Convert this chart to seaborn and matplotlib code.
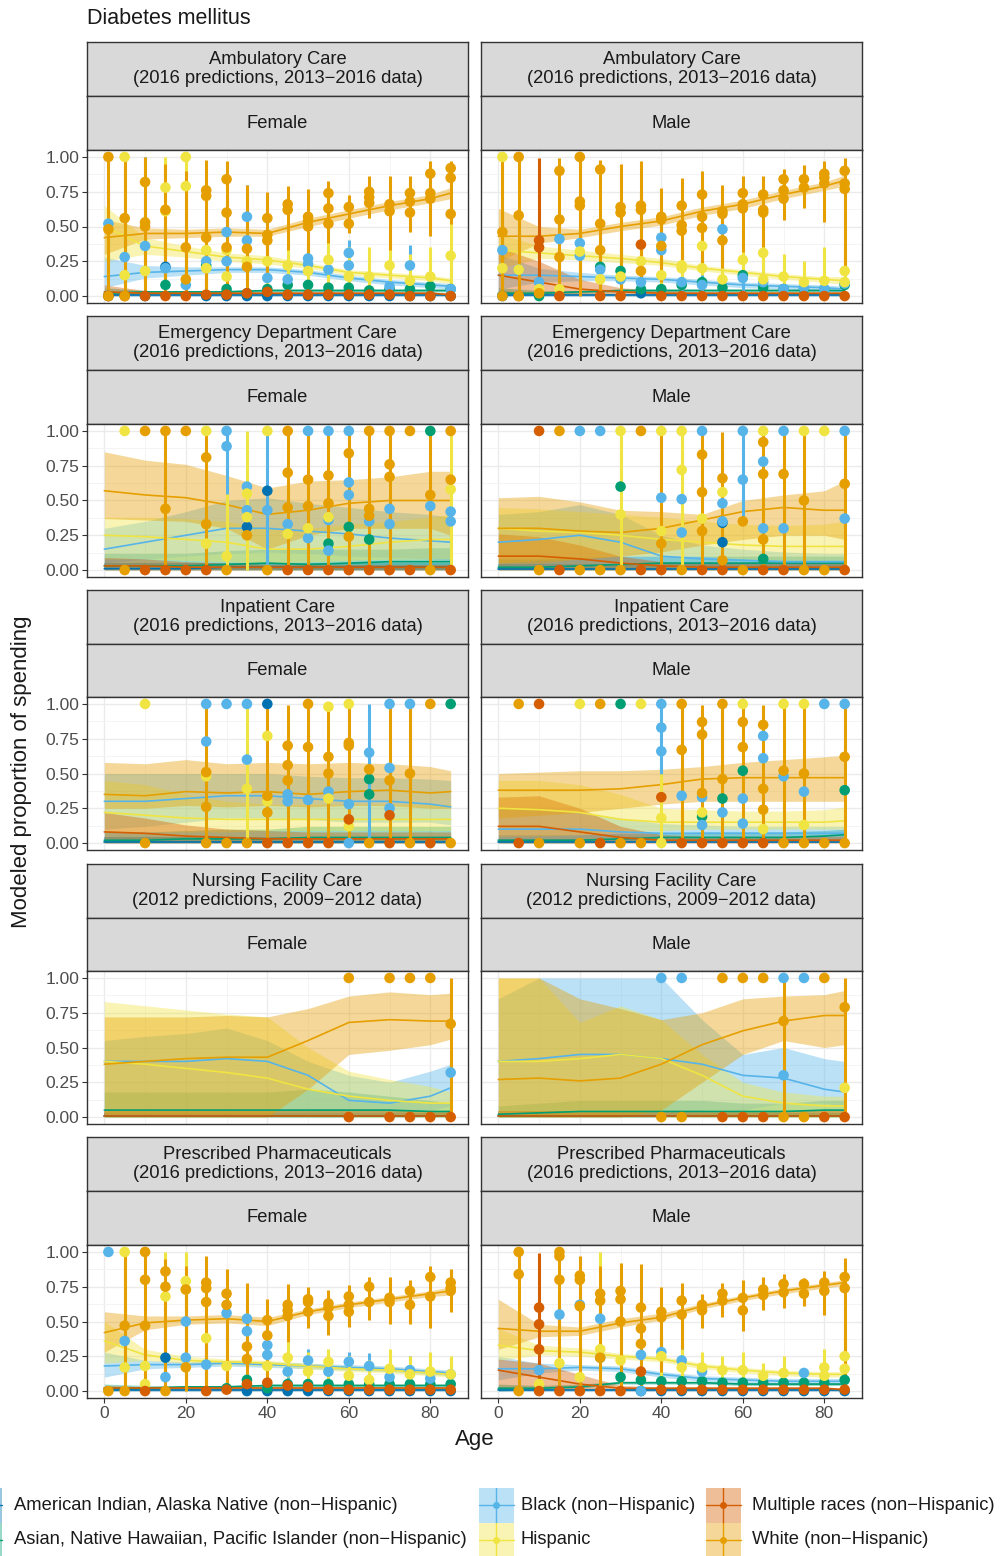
import matplotlib
matplotlib.use("Agg")
import matplotlib.pyplot as plt
from matplotlib.patches import Rectangle
import seaborn as sns
import pandas as pd

N = None

RACES = ["aian", "api", "blk", "hisp", "mult", "wht"]
LABELS = {
    "aian": "American Indian, Alaska Native (non\u2212Hispanic)",
    "api": "Asian, Native Hawaiian, Pacific Islander (non\u2212Hispanic)",
    "blk": "Black (non\u2212Hispanic)",
    "hisp": "Hispanic",
    "mult": "Multiple races (non\u2212Hispanic)",
    "wht": "White (non\u2212Hispanic)",
}
PAL = {"aian": "#0072B2", "api": "#009E73", "blk": "#56B4E9",
       "hisp": "#F0E442", "mult": "#D55E00", "wht": "#E69F00"}

# ages of the modeled ribbons and of the observed points
R_AGES = [0, 10, 20, 30, 40, 50, 60, 70, 80, 85]
P_AGES = [1, 5, 10, 15, 20, 25, 30, 35, 40, 45, 50, 55, 60, 65, 70, 75, 80, 85]

Z10 = [0.00, 0.00, 0.00, 0.00, 0.00, 0.00, 0.00, 0.00, 0.00, 0.00]

# ---------------- Ambulatory care ----------------
RIB_AMB_F = {
    "aian": ([0.01, 0.01, 0.01, 0.01, 0.01, 0.01, 0.01, 0.01, 0.01, 0.01], Z10,
             [0.04, 0.02, 0.02, 0.02, 0.02, 0.02, 0.02, 0.02, 0.02, 0.02]),
    "api": ([0.02, 0.03, 0.03, 0.03, 0.04, 0.04, 0.04, 0.04, 0.04, 0.04],
            [0.00, 0.02, 0.02, 0.02, 0.03, 0.03, 0.03, 0.03, 0.03, 0.03],
            [0.06, 0.04, 0.04, 0.04, 0.05, 0.05, 0.05, 0.05, 0.05, 0.05]),
    "blk": ([0.14, 0.17, 0.18, 0.19, 0.19, 0.17, 0.13, 0.10, 0.08, 0.07],
            [0.06, 0.13, 0.15, 0.17, 0.17, 0.15, 0.11, 0.08, 0.06, 0.05],
            [0.28, 0.22, 0.21, 0.21, 0.21, 0.19, 0.15, 0.12, 0.10, 0.09]),
    "hisp": ([0.50, 0.36, 0.32, 0.28, 0.26, 0.22, 0.17, 0.15, 0.13, 0.11],
             [0.25, 0.30, 0.28, 0.25, 0.23, 0.20, 0.15, 0.13, 0.11, 0.09],
             [0.65, 0.42, 0.36, 0.31, 0.29, 0.24, 0.19, 0.17, 0.15, 0.13]),
    "mult": ([0.03, 0.02, 0.02, 0.02, 0.02, 0.02, 0.02, 0.02, 0.02, 0.01],
             [0.01, 0.01, 0.01, 0.01, 0.01, 0.01, 0.01, 0.01, 0.01, 0.00],
             [0.08, 0.04, 0.03, 0.03, 0.03, 0.03, 0.03, 0.03, 0.03, 0.02]),
    "wht": ([0.42, 0.45, 0.45, 0.46, 0.45, 0.53, 0.59, 0.65, 0.70, 0.74],
            [0.30, 0.41, 0.42, 0.43, 0.43, 0.50, 0.56, 0.62, 0.67, 0.70],
            [0.55, 0.49, 0.48, 0.49, 0.48, 0.56, 0.62, 0.68, 0.73, 0.78]),
}
PTS_AMB_F = {
    "aian": [[0.00, N, 0.00, 0.21, N, 0.00, 0.00, 0.00, 0.00, 0.00, 0.00, 0.00, 0.00, 0.00, 0.00, 0.00, 0.00, 0.00]],
    "api": [[N, N, N, 0.08, N, 0.22, 0.05, 0.02, 0.05, 0.08, 0.08, 0.06, 0.06, 0.04, 0.05, 0.05, 0.07, 0.05]],
    "blk": [[0.52, 0.28, 0.36, 0.20, 0.08, 0.25, 0.46, 0.57, 0.13, 0.12, 0.27, 0.19, 0.31, N, 0.07, 0.22, N, 0.05],
            [N, N, N, N, N, N, 0.25, 0.40, N, N, 0.23, N, 0.22, N, N, N, N, N]],
    "hisp": [[N, 1.00, 0.18, 0.78, 1.00, 0.33, 0.33, 0.25, 0.25, 0.22, 0.18, 0.26, 0.14, 0.14, 0.22, 0.11, 0.14, 0.29],
             [N, 0.15, N, 0.61, 0.79, 0.20, 0.14, N, N, N, N, N, N, N, N, N, N, N]],
    "mult": [[0.00, 0.00, 0.00, 0.00, 0.00, 0.01, 0.01, 0.02, 0.03, 0.01, 0.01, 0.01, 0.01, 0.01, 0.01, 0.00, 0.00, 0.00]],
    "wht": [[1.00, 0.56, 0.82, 0.62, 0.35, 0.76, 0.84, 0.34, 0.56, 0.66, 0.57, 0.74, 0.64, 0.75, 0.66, 0.74, 0.88, 0.92],
            [0.48, 0.00, 0.53, N, 0.12, 0.72, 0.60, 0.21, 0.44, 0.62, 0.54, 0.63, 0.52, 0.71, 0.61, 0.68, 0.74, 0.85],
            [0.00, N, 0.50, N, N, 0.42, 0.35, N, 0.40, N, 0.50, 0.52, N, 0.67, N, 0.60, 0.70, 0.59]],
}
BAR_AMB_F = {
    "blk": ([0.20, 0.05, 0.10, 0.00, 0.00, 0.05, 0.20, 0.10, 0.00, 0.00, 0.10, 0.05, 0.10, N, 0.00, 0.08, N, 0.00],
            [0.80, 0.60, 1.00, 0.50, 0.30, 0.50, 0.70, 0.80, 0.40, 0.30, 0.35, 0.35, 0.40, N, 0.25, 0.37, N, 0.20]),
    "hisp": ([N, 0.00, 0.00, 0.00, 0.00, 0.05, 0.05, 0.05, 0.05, 0.05, 0.05, 0.05, 0.05, 0.05, 0.05, 0.03, 0.00, 0.00],
             [N, 1.00, 0.60, 1.00, 1.00, 0.55, 0.60, 0.50, 0.50, 0.45, 0.40, 0.40, 0.35, 0.35, 0.40, 0.30, 0.35, 0.55]),
    "wht": ([0.00, 0.00, 0.00, 0.00, 0.00, 0.05, 0.05, 0.02, 0.10, 0.33, 0.28, 0.38, 0.45, 0.56, 0.33, 0.46, 0.43, 0.52],
            [1.00, 1.00, 1.00, 0.95, 0.90, 0.98, 0.97, 0.80, 0.75, 0.79, 0.77, 0.83, 0.73, 0.86, 0.86, 0.86, 0.97, 0.97]),
}

RIB_AMB_M = {
    "aian": ([0.01, 0.01, 0.01, 0.01, 0.01, 0.01, 0.01, 0.01, 0.01, 0.01], Z10,
             [0.04, 0.02, 0.02, 0.02, 0.02, 0.02, 0.02, 0.02, 0.02, 0.02]),
    "api": ([0.02, 0.02, 0.03, 0.04, 0.04, 0.04, 0.04, 0.04, 0.04, 0.04],
            [0.00, 0.01, 0.02, 0.03, 0.03, 0.03, 0.03, 0.03, 0.03, 0.03],
            [0.06, 0.04, 0.04, 0.05, 0.05, 0.05, 0.05, 0.05, 0.05, 0.05]),
    "blk": ([0.15, 0.15, 0.14, 0.13, 0.12, 0.10, 0.08, 0.07, 0.06, 0.05],
            [0.05, 0.10, 0.11, 0.11, 0.10, 0.08, 0.06, 0.05, 0.04, 0.03],
            [0.30, 0.20, 0.17, 0.15, 0.14, 0.12, 0.10, 0.09, 0.08, 0.07]),
    "hisp": ([0.33, 0.31, 0.29, 0.27, 0.24, 0.20, 0.17, 0.14, 0.12, 0.11],
             [0.20, 0.27, 0.26, 0.24, 0.22, 0.18, 0.15, 0.12, 0.10, 0.08],
             [0.45, 0.36, 0.33, 0.30, 0.27, 0.22, 0.19, 0.16, 0.14, 0.14]),
    "mult": ([0.15, 0.10, 0.05, 0.03, 0.02, 0.02, 0.02, 0.02, 0.02, 0.02],
             [0.02, 0.02, 0.01, 0.01, 0.01, 0.01, 0.01, 0.01, 0.01, 0.01],
             [0.35, 0.25, 0.12, 0.06, 0.04, 0.03, 0.03, 0.03, 0.03, 0.03]),
    "wht": ([0.43, 0.43, 0.45, 0.50, 0.54, 0.61, 0.66, 0.73, 0.79, 0.83],
            [0.25, 0.38, 0.42, 0.47, 0.51, 0.58, 0.63, 0.70, 0.76, 0.79],
            [0.63, 0.50, 0.48, 0.53, 0.57, 0.64, 0.69, 0.76, 0.82, 0.87]),
}
PTS_AMB_M = {
    "aian": [[0.00, N, N, N, N, N, N, 0.02, N, N, N, N, N, N, N, N, N, N]],
    "api": [[N, N, 0.00, N, N, 0.21, 0.18, 0.05, 0.05, 0.08, 0.10, 0.06, 0.15, 0.06, 0.05, 0.05, 0.05, 0.08]],
    "blk": [[0.33, 0.19, 0.10, 0.41, 0.38, 0.19, 0.12, 0.10, 0.42, 0.10, 0.08, 0.48, 0.13, 0.10, 0.05, 0.06, 0.05, 0.09],
            [N, N, N, N, 0.29, N, N, N, 0.33, N, N, N, N, N, N, N, N, N]],
    "hisp": [[1.00, 0.19, 0.05, 0.05, 0.32, 0.12, 0.14, 0.25, 0.15, 0.22, 0.36, 0.12, 0.26, 0.31, 0.14, 0.10, 0.11, 0.18],
             [0.20, N, N, N, N, N, N, N, N, 0.20, 0.20, N, N, 0.12, N, N, N, 0.10]],
    "mult": [[N, 0.00, 0.40, 0.00, N, 0.00, 0.00, 0.37, 0.00, 0.00, 0.00, 0.00, 0.00, 0.00, 0.00, 0.00, 0.00, 0.00],
             [N, N, 0.35, N, N, N, N, N, N, N, N, N, N, N, N, N, N, N]],
    "wht": [[0.46, 1.00, 0.02, 0.90, 1.00, 0.91, 0.64, 0.65, 0.57, 0.65, 0.73, 0.61, 0.74, 0.73, 0.84, 0.84, 0.88, 0.90],
            [0.00, 0.58, N, 0.55, 0.68, 0.52, 0.60, 0.62, 0.55, 0.51, 0.57, 0.59, 0.66, 0.62, 0.76, 0.78, 0.85, 0.81],
            [N, 0.00, N, 0.28, 0.65, 0.33, N, 0.18, 0.36, 0.47, 0.49, 0.40, 0.63, 0.60, 0.70, N, 0.81, 0.77]],
}
BAR_AMB_M = {
    "blk": ([0.10, 0.00, 0.00, 0.10, 0.10, 0.00, 0.00, 0.00, 0.10, 0.00, 0.00, 0.10, 0.00, 0.00, N, N, N, N],
            [0.60, 0.50, 0.30, 0.60, 0.60, 0.50, 0.35, 0.30, 0.60, 0.30, 0.30, 0.60, 0.30, 0.30, N, N, N, N]),
    "hisp": ([0.00, 0.00, N, 0.00, 0.10, N, 0.00, N, 0.05, 0.10, 0.15, 0.02, 0.10, 0.15, 0.05, 0.03, 0.03, 0.05],
             [1.00, 0.50, N, 0.30, 0.50, N, 0.35, N, 0.30, 0.35, 0.50, 0.30, 0.40, 0.45, 0.30, 0.25, 0.35, 0.35]),
    "mult": ([N, N, 0.00, N, N, N, N, 0.00, N, N, N, N, N, N, N, N, N, N],
             [N, N, 0.99, N, N, N, N, 0.75, N, N, N, N, N, N, N, N, N, N]),
    "wht": ([0.00, 0.00, N, 0.00, 0.00, 0.00, 0.00, 0.02, 0.10, 0.26, 0.17, 0.20, 0.32, 0.35, 0.55, 0.63, 0.53, 0.16],
            [1.00, 1.00, N, 0.99, 1.00, 0.98, 0.95, 0.97, 0.78, 0.85, 0.90, 0.80, 0.86, 0.86, 0.91, 0.94, 0.97, 0.99]),
}

# ---------------- Emergency department care ----------------
RIB_ED_F = {
    "aian": ([0.01, 0.01, 0.01, 0.02, 0.02, 0.02, 0.02, 0.02, 0.02, 0.02], Z10,
             [0.05, 0.05, 0.05, 0.05, 0.05, 0.05, 0.05, 0.05, 0.05, 0.05]),
    "api": ([0.03, 0.03, 0.03, 0.04, 0.05, 0.04, 0.05, 0.06, 0.06, 0.06], Z10,
            [0.12, 0.12, 0.12, 0.14, 0.15, 0.15, 0.15, 0.15, 0.16, 0.16]),
    "blk": ([0.15, 0.20, 0.25, 0.30, 0.30, 0.28, 0.26, 0.23, 0.21, 0.20],
            [0.05, 0.08, 0.10, 0.12, 0.13, 0.12, 0.10, 0.09, 0.08, 0.07],
            [0.30, 0.35, 0.42, 0.50, 0.52, 0.48, 0.45, 0.42, 0.40, 0.38]),
    "hisp": ([0.25, 0.24, 0.22, 0.20, 0.15, 0.15, 0.17, 0.20, 0.22, 0.22],
             [0.08, 0.08, 0.07, 0.06, 0.05, 0.06, 0.07, 0.08, 0.08, 0.08],
             [0.38, 0.38, 0.37, 0.35, 0.30, 0.30, 0.33, 0.35, 0.38, 0.40]),
    "mult": ([0.03, 0.03, 0.02, 0.02, 0.02, 0.02, 0.02, 0.02, 0.02, 0.02], Z10,
             [0.09, 0.08, 0.06, 0.05, 0.04, 0.04, 0.04, 0.04, 0.04, 0.04]),
    "wht": ([0.57, 0.54, 0.52, 0.47, 0.40, 0.43, 0.48, 0.50, 0.50, 0.50],
            [0.37, 0.36, 0.35, 0.30, 0.15, 0.25, 0.30, 0.30, 0.30, 0.25],
            [0.85, 0.79, 0.76, 0.68, 0.59, 0.64, 0.65, 0.67, 0.71, 0.71]),
}
PTS_ED_F = {
    "aian": [[N, N, N, N, N, N, N, 0.31, 0.57, N, N, N, N, N, N, N, N, N]],
    "api": [[N, N, N, N, N, N, N, N, N, N, N, 0.19, 0.31, 0.22, N, N, 1.00, N]],
    "blk": [[N, N, N, N, N, N, 1.00, 0.60, 0.43, 0.33, 1.00, 1.00, 1.00, 0.35, 0.44, N, 0.46, 0.42],
            [N, N, N, N, N, N, 0.89, 0.43, N, N, 0.23, 0.36, 0.63, N, 0.33, N, N, 0.35],
            [N, N, N, N, N, N, N, N, N, N, N, 0.14, 0.54, N, N, N, N, N]],
    "hisp": [[N, 1.00, N, N, N, 1.00, 0.10, 0.55, 1.00, 0.26, 0.30, 0.38, N, N, N, N, N, 0.58],
             [N, N, N, N, N, 0.19, N, 0.38, N, N, N, N, N, N, N, N, N, N]],
    "mult": [[N, N, 0.00, 0.00, 0.00, 0.00, N, N, N, 0.00, 0.00, 0.00, 0.00, 0.00, 0.00, 0.00, N, 0.00]],
    "wht": [[N, 0.00, 1.00, 1.00, 1.00, 0.81, 0.00, 0.25, 0.00, 1.00, 0.65, 0.68, 0.84, 1.00, 1.00, 1.00, 0.54, 1.00],
            [N, N, N, 0.44, N, 0.33, N, N, N, 0.70, 0.46, 0.48, 0.24, 0.44, 0.76, N, 0.00, 0.65],
            [N, N, N, N, N, N, N, N, N, 0.45, N, N, N, 0.39, 0.67, N, N, N]],
}
BAR_ED_F = {
    "blk": ([N, N, N, N, N, N, 0.50, N, 0.00, N, N, N, N, N, N, N, N, N],
            [N, N, N, N, N, N, 1.00, N, 1.00, N, N, N, N, N, N, N, N, N]),
    "hisp": ([N, N, N, N, N, N, 0.00, 0.00, N, N, N, N, N, N, N, N, N, 0.00],
             [N, N, N, N, N, N, 0.55, 1.00, N, N, N, N, N, N, N, N, N, 1.00]),
    "wht": ([N, N, N, 0.00, N, 0.00, N, N, N, 0.00, 0.00, 0.00, 0.00, 0.00, 0.00, N, 0.00, N],
            [N, N, N, 1.00, N, 1.00, N, N, N, 1.00, 1.00, 1.00, 1.00, 1.00, 1.00, N, 1.00, N]),
}

RIB_ED_M = {
    "aian": ([0.01, 0.01, 0.01, 0.01, 0.01, 0.01, 0.01, 0.01, 0.01, 0.01], Z10,
             [0.04, 0.04, 0.04, 0.04, 0.04, 0.04, 0.04, 0.04, 0.04, 0.04]),
    "api": ([0.02, 0.02, 0.03, 0.04, 0.05, 0.05, 0.05, 0.05, 0.05, 0.05], Z10,
            [0.08, 0.08, 0.09, 0.10, 0.10, 0.10, 0.10, 0.10, 0.10, 0.10]),
    "blk": ([0.20, 0.22, 0.25, 0.20, 0.10, 0.08, 0.07, 0.06, 0.06, 0.06],
            [0.02, 0.03, 0.03, 0.03, 0.03, 0.03, 0.03, 0.03, 0.03, 0.03],
            [0.40, 0.42, 0.47, 0.40, 0.25, 0.18, 0.15, 0.13, 0.12, 0.12]),
    "hisp": ([0.30, 0.28, 0.27, 0.25, 0.22, 0.20, 0.18, 0.17, 0.17, 0.17],
             [0.05, 0.07, 0.08, 0.10, 0.10, 0.10, 0.08, 0.07, 0.07, 0.07],
             [0.45, 0.44, 0.42, 0.40, 0.38, 0.35, 0.33, 0.32, 0.33, 0.35]),
    "mult": ([0.10, 0.10, 0.08, 0.05, 0.03, 0.02, 0.02, 0.02, 0.02, 0.02], Z10,
             [0.26, 0.24, 0.18, 0.10, 0.06, 0.05, 0.05, 0.05, 0.05, 0.05]),
    "wht": ([0.30, 0.30, 0.28, 0.27, 0.30, 0.36, 0.42, 0.45, 0.43, 0.43],
            [0.05, 0.05, 0.08, 0.10, 0.13, 0.18, 0.22, 0.25, 0.25, 0.22],
            [0.52, 0.53, 0.49, 0.43, 0.42, 0.40, 0.50, 0.54, 0.57, 0.64]),
}
PTS_ED_M = {
    "aian": [[N, N, N, N, N, N, N, N, N, N, N, 0.34, N, N, N, N, N, N],
             [N, N, N, N, N, N, N, N, N, N, N, 0.20, N, N, N, N, N, N]],
    "api": [[N, N, N, N, N, N, 0.60, N, N, N, N, N, N, 0.08, N, N, N, N]],
    "blk": [[N, N, N, N, 1.00, 1.00, N, N, 0.52, 0.51, 1.00, 0.48, 1.00, 0.78, 1.00, N, N, 1.00],
            [N, N, N, N, N, N, N, N, N, 0.27, N, 0.35, 0.65, 0.30, 0.30, N, N, 0.37]],
    "hisp": [[N, N, N, N, N, N, 1.00, N, 1.00, 1.00, 0.37, 0.56, N, 1.00, N, 1.00, 1.00, N],
             [N, N, N, N, N, N, 0.40, N, 0.28, 0.72, N, N, N, N, N, N, N, N]],
    "mult": [[N, N, 1.00, 0.00, N, N, N, 0.00, 0.00, N, 0.00, 0.00, N, 0.00, 0.00, N, N, 0.00]],
    "wht": [[N, N, 0.00, 1.00, 0.00, 0.00, 0.00, 1.00, 0.19, 0.00, 0.83, 0.66, 0.35, 0.92, 0.69, 0.50, 0.00, 0.62],
            [N, N, N, N, N, N, N, N, N, N, 0.56, 0.07, 0.00, 0.69, N, 0.00, N, N],
            [N, N, N, N, N, N, N, N, N, N, 0.28, N, N, 0.22, N, N, N, N]],
}
BAR_ED_M = {
    "blk": ([N, N, N, N, N, N, N, N, N, N, N, N, 0.33, N, N, N, N, N],
            [N, N, N, N, N, N, N, N, N, N, N, N, 1.00, N, N, N, N, N]),
    "hisp": ([N, N, N, N, N, N, 0.00, N, N, 0.00, N, N, N, N, N, N, N, N],
             [N, N, N, N, N, N, 1.00, N, N, 1.00, N, N, N, N, N, N, N, N]),
    "wht": ([N, N, N, N, N, N, N, N, 0.00, N, 0.00, 0.00, N, 0.00, 0.00, 0.00, N, 0.00],
            [N, N, N, N, N, N, N, N, 1.00, N, 1.00, 0.99, N, 1.00, 1.00, 1.00, N, 1.00]),
}

# ---------------- Inpatient care ----------------
RIB_INP_F = {
    "aian": ([0.01, 0.01, 0.01, 0.01, 0.01, 0.01, 0.01, 0.01, 0.01, 0.01], Z10,
             [0.04, 0.04, 0.04, 0.04, 0.04, 0.04, 0.04, 0.04, 0.04, 0.04]),
    "api": ([0.02, 0.02, 0.03, 0.03, 0.03, 0.04, 0.04, 0.04, 0.04, 0.04], Z10,
            [0.08, 0.08, 0.09, 0.10, 0.10, 0.12, 0.12, 0.12, 0.12, 0.12]),
    "blk": ([0.30, 0.30, 0.32, 0.34, 0.34, 0.32, 0.30, 0.30, 0.28, 0.26],
            [0.10, 0.12, 0.15, 0.18, 0.18, 0.17, 0.15, 0.15, 0.15, 0.13],
            [0.50, 0.50, 0.50, 0.50, 0.50, 0.48, 0.47, 0.47, 0.46, 0.45]),
    "hisp": ([0.22, 0.20, 0.18, 0.17, 0.17, 0.17, 0.17, 0.17, 0.17, 0.17],
             [0.08, 0.08, 0.08, 0.08, 0.09, 0.09, 0.09, 0.09, 0.09, 0.09],
             [0.45, 0.42, 0.35, 0.30, 0.28, 0.28, 0.28, 0.28, 0.28, 0.28]),
    "mult": ([0.08, 0.07, 0.05, 0.04, 0.03, 0.03, 0.03, 0.03, 0.03, 0.03], Z10,
             [0.22, 0.18, 0.13, 0.10, 0.09, 0.08, 0.08, 0.08, 0.08, 0.08]),
    "wht": ([0.35, 0.34, 0.37, 0.36, 0.37, 0.35, 0.37, 0.38, 0.36, 0.37],
            [0.25, 0.25, 0.27, 0.26, 0.27, 0.26, 0.27, 0.27, 0.25, 0.25],
            [0.58, 0.57, 0.60, 0.57, 0.58, 0.57, 0.58, 0.57, 0.55, 0.52]),
}
PTS_INP_F = {
    "aian": [[N, N, N, N, N, N, N, N, 1.00, N, N, N, N, N, N, N, N, N]],
    "api": [[N, N, N, N, N, N, N, N, N, N, N, N, N, 0.46, N, N, N, 1.00],
            [N, N, N, N, N, N, N, N, N, N, N, N, N, 0.35, N, N, N, N]],
    "blk": [[N, N, N, N, N, 1.00, 1.00, 1.00, N, 0.35, 0.31, 0.37, 0.28, 0.65, 1.00, 1.00, N, N],
            [N, N, N, N, N, 0.73, N, 0.60, N, 0.30, N, N, 0.00, N, 0.54, N, N, N],
            [N, N, N, N, N, N, N, N, N, N, N, N, N, N, 0.25, N, N, N]],
    "hisp": [[N, N, 1.00, N, N, 0.48, N, 0.39, 0.77, N, N, 0.98, 1.00, N, N, N, N, N],
             [N, N, N, N, N, N, N, N, 0.30, N, N, 0.32, 0.12, N, N, N, N, N]],
    "mult": [[N, N, N, N, N, N, N, N, 0.00, 0.00, 0.00, 0.00, 0.17, N, 0.00, N, 0.00, N],
             [N, N, N, N, N, N, N, N, N, N, N, N, N, N, 0.20, N, N, N]],
    "wht": [[N, N, 0.00, N, N, 0.51, 0.00, 0.00, 0.34, 0.70, 1.00, 0.62, 0.70, 0.53, 0.45, 0.50, 1.00, 0.00],
            [N, N, N, N, N, 0.26, N, N, 0.22, 0.56, 0.69, 0.50, 0.72, 0.00, N, 0.00, N, N],
            [N, N, N, N, N, 0.00, N, N, N, 0.45, N, N, N, N, N, N, N, N]],
}
BAR_INP_F = {
    "blk": ([N, N, N, N, N, N, N, N, N, N, N, N, N, 0.00, N, N, N, N],
            [N, N, N, N, N, N, N, N, N, N, N, N, N, 1.00, N, N, N, N]),
    "hisp": ([N, N, N, N, N, N, N, 0.00, N, N, N, N, N, N, N, N, N, N],
             [N, N, N, N, N, N, N, 1.00, N, N, N, N, N, N, N, N, N, N]),
    "wht": ([N, N, N, N, N, 0.00, N, N, 0.00, 0.00, 0.00, 0.00, 0.00, N, 0.00, 0.00, N, N],
            [N, N, N, N, N, 1.00, N, N, 1.00, 0.99, 1.00, 1.00, 1.00, N, 1.00, 1.00, N, N]),
}

RIB_INP_M = {
    "aian": ([0.01, 0.01, 0.01, 0.01, 0.01, 0.01, 0.01, 0.01, 0.01, 0.01], Z10,
             [0.03, 0.03, 0.03, 0.03, 0.03, 0.03, 0.03, 0.03, 0.03, 0.03]),
    "api": ([0.02, 0.02, 0.02, 0.03, 0.04, 0.04, 0.04, 0.04, 0.05, 0.06],
            [0.00, 0.00, 0.00, 0.01, 0.02, 0.02, 0.02, 0.02, 0.03, 0.03],
            [0.06, 0.06, 0.06, 0.07, 0.07, 0.08, 0.08, 0.08, 0.09, 0.10]),
    "blk": ([0.10, 0.10, 0.10, 0.08, 0.07, 0.07, 0.07, 0.07, 0.07, 0.07],
            [0.01, 0.01, 0.01, 0.01, 0.02, 0.02, 0.02, 0.02, 0.02, 0.02],
            [0.25, 0.25, 0.22, 0.18, 0.14, 0.13, 0.12, 0.12, 0.12, 0.12]),
    "hisp": ([0.25, 0.24, 0.22, 0.17, 0.15, 0.15, 0.15, 0.15, 0.15, 0.16],
             [0.05, 0.05, 0.06, 0.08, 0.09, 0.10, 0.10, 0.10, 0.10, 0.10],
             [0.45, 0.45, 0.42, 0.35, 0.25, 0.24, 0.23, 0.23, 0.24, 0.26]),
    "mult": ([0.12, 0.12, 0.08, 0.04, 0.02, 0.02, 0.02, 0.02, 0.02, 0.02], Z10,
             [0.33, 0.34, 0.25, 0.12, 0.06, 0.05, 0.05, 0.05, 0.05, 0.05]),
    "wht": ([0.38, 0.38, 0.38, 0.39, 0.42, 0.46, 0.47, 0.47, 0.47, 0.47],
            [0.18, 0.20, 0.22, 0.25, 0.28, 0.30, 0.30, 0.30, 0.30, 0.30],
            [0.50, 0.51, 0.52, 0.52, 0.53, 0.55, 0.58, 0.60, 0.62, 0.63]),
}
PTS_INP_M = {
    "api": [[N, N, N, N, N, N, 1.00, N, N, N, 0.19, 0.32, 0.52, N, N, N, N, 0.38]],
    "blk": [[N, N, N, N, N, N, N, N, 1.00, 0.34, 0.33, 0.22, 0.32, 0.77, 0.48, 0.37, 1.00, 1.00],
            [N, N, N, N, N, N, N, N, 0.83, N, 0.13, N, 0.14, 0.61, N, N, N, N],
            [N, N, N, N, N, N, N, N, 0.66, N, N, N, N, N, N, N, N, N]],
    "hisp": [[N, N, N, N, 1.00, N, N, 1.00, 0.18, N, 0.22, N, 1.00, 0.10, 1.00, 1.00, N, N],
             [N, N, N, N, N, N, N, N, 0.00, N, N, N, N, N, N, 0.13, N, N]],
    "mult": [[N, 0.00, 1.00, N, N, 0.00, N, N, 0.33, 0.00, 0.00, 0.00, 0.00, 0.00, N, N, N, N]],
    "wht": [[N, 1.00, 0.00, N, 0.00, 1.00, 0.00, 0.00, N, 1.00, 0.87, 1.00, 0.87, 0.85, 0.52, 0.50, 0.00, 0.62],
            [N, N, N, N, N, N, N, N, N, 0.67, 0.78, 0.46, 0.69, 0.39, 0.00, 0.00, N, 0.00],
            [N, N, N, N, N, N, N, N, N, N, 0.36, N, N, 0.24, N, N, N, N]],
}
BAR_INP_M = {
    "blk": ([N, N, N, N, N, N, N, N, 0.50, N, N, 0.30, N, N, N, N, N, N],
            [N, N, N, N, N, N, N, N, 1.00, N, N, 1.00, N, N, N, N, N, N]),
    "hisp": ([N, N, N, N, N, N, N, N, 0.00, N, N, N, N, N, N, N, N, N],
             [N, N, N, N, N, N, N, N, 0.50, N, N, N, N, N, N, N, N, N]),
    "wht": ([N, N, N, N, N, N, N, N, N, 0.00, 0.00, 0.00, 0.00, 0.00, 0.00, 0.00, N, 0.00],
            [N, N, N, N, N, N, N, N, N, 1.00, 0.99, 1.00, 1.00, 0.99, 1.00, 1.00, N, 1.00]),
}

# ---------------- Nursing facility care ----------------
RIB_NUR_F = {
    "aian": ([0.01, 0.01, 0.01, 0.01, 0.01, 0.01, 0.01, 0.01, 0.01, 0.01], Z10,
             [0.03, 0.03, 0.03, 0.03, 0.03, 0.03, 0.03, 0.03, 0.03, 0.03]),
    "api": ([0.05, 0.05, 0.05, 0.05, 0.05, 0.05, 0.05, 0.05, 0.04, 0.04], Z10,
            [0.18, 0.18, 0.18, 0.18, 0.18, 0.20, 0.18, 0.15, 0.12, 0.10]),
    "blk": ([0.40, 0.40, 0.40, 0.42, 0.40, 0.30, 0.12, 0.10, 0.15, 0.21],
            [0.00, 0.00, 0.00, 0.00, 0.00, 0.00, 0.00, 0.02, 0.05, 0.08],
            [0.55, 0.58, 0.60, 0.64, 0.55, 0.40, 0.30, 0.25, 0.33, 0.38]),
    "hisp": ([0.40, 0.38, 0.35, 0.32, 0.28, 0.20, 0.15, 0.12, 0.10, 0.10], Z10,
             [0.83, 0.80, 0.77, 0.74, 0.72, 0.50, 0.33, 0.27, 0.22, 0.18]),
    "mult": ([0.01, 0.01, 0.01, 0.01, 0.01, 0.01, 0.01, 0.01, 0.01, 0.01], Z10,
             [0.04, 0.04, 0.04, 0.04, 0.04, 0.04, 0.04, 0.04, 0.04, 0.04]),
    "wht": ([0.38, 0.40, 0.42, 0.43, 0.43, 0.55, 0.68, 0.70, 0.69, 0.69],
            [0.00, 0.00, 0.00, 0.00, 0.00, 0.20, 0.45, 0.48, 0.52, 0.56],
            [0.72, 0.72, 0.72, 0.73, 0.72, 0.78, 0.87, 0.90, 0.88, 0.89]),
}
PTS_NUR_F = {
    "blk": [[N, N, N, N, N, N, N, N, N, N, N, N, N, N, N, N, N, 0.32]],
    "mult": [[N, N, N, N, N, N, N, N, N, N, N, N, 0.00, N, 0.00, 0.00, 0.00, 0.00]],
    "wht": [[N, N, N, N, N, N, N, N, N, N, N, N, 1.00, N, 1.00, 1.00, 1.00, 0.67]],
}
BAR_NUR_F = {
    "wht": ([N, N, N, N, N, N, N, N, N, N, N, N, N, N, N, N, N, 0.00],
            [N, N, N, N, N, N, N, N, N, N, N, N, N, N, N, N, N, 1.00]),
}

RIB_NUR_M = {
    "aian": ([0.01, 0.01, 0.01, 0.01, 0.01, 0.01, 0.01, 0.01, 0.01, 0.01], Z10,
             [0.03, 0.03, 0.03, 0.03, 0.03, 0.03, 0.03, 0.03, 0.03, 0.03]),
    "api": ([0.02, 0.03, 0.04, 0.04, 0.04, 0.04, 0.04, 0.04, 0.05, 0.05], Z10,
            [0.08, 0.10, 0.12, 0.12, 0.12, 0.12, 0.10, 0.10, 0.12, 0.12]),
    "blk": ([0.40, 0.42, 0.45, 0.45, 0.42, 0.38, 0.30, 0.28, 0.20, 0.18],
            [0.00, 0.00, 0.00, 0.00, 0.00, 0.05, 0.05, 0.10, 0.10, 0.08],
            [0.85, 1.00, 1.00, 1.00, 1.00, 0.70, 0.45, 0.50, 0.42, 0.40]),
    "hisp": ([0.40, 0.40, 0.42, 0.45, 0.42, 0.30, 0.15, 0.10, 0.08, 0.08], Z10,
             [1.00, 1.00, 0.68, 0.80, 0.70, 0.45, 0.25, 0.18, 0.15, 0.15]),
    "mult": ([0.01, 0.01, 0.01, 0.01, 0.01, 0.01, 0.01, 0.01, 0.01, 0.01], Z10,
             [0.04, 0.04, 0.04, 0.04, 0.04, 0.04, 0.04, 0.04, 0.04, 0.04]),
    "wht": ([0.27, 0.28, 0.26, 0.28, 0.38, 0.52, 0.62, 0.69, 0.73, 0.73],
            [0.00, 0.00, 0.00, 0.00, 0.05, 0.25, 0.45, 0.55, 0.50, 0.52],
            [1.00, 1.00, 0.85, 0.78, 0.70, 0.75, 0.85, 0.87, 0.88, 0.91]),
}
PTS_NUR_M = {
    "blk": [[N, N, N, N, N, N, N, N, 1.00, 1.00, N, N, N, N, 1.00, 1.00, N, N],
            [N, N, N, N, N, N, N, N, N, N, N, N, N, N, 0.30, N, N, N]],
    "hisp": [[N, N, N, N, N, N, N, N, N, N, N, N, N, N, N, N, N, 0.21]],
    "mult": [[N, N, N, N, N, N, N, N, N, N, N, 0.00, 0.00, 0.00, N, N, 0.00, 0.00]],
    "wht": [[N, N, N, N, N, N, N, N, 0.00, 0.00, N, 1.00, 1.00, 1.00, 0.69, 0.00, 1.00, 0.79],
            [N, N, N, N, N, N, N, N, N, N, N, N, N, N, 0.00, N, N, N]],
}
BAR_NUR_M = {
    "wht": ([N, N, N, N, N, N, N, N, N, N, N, N, N, N, 0.00, N, N, 0.00],
            [N, N, N, N, N, N, N, N, N, N, N, N, N, N, 1.00, N, N, 1.00]),
}

# ---------------- Prescribed pharmaceuticals ----------------
RIB_PH_F = {
    "aian": ([0.01, 0.01, 0.01, 0.01, 0.01, 0.01, 0.01, 0.01, 0.01, 0.01], Z10,
             [0.03, 0.02, 0.02, 0.02, 0.02, 0.02, 0.02, 0.02, 0.02, 0.02]),
    "api": ([0.02, 0.02, 0.03, 0.03, 0.04, 0.04, 0.04, 0.04, 0.04, 0.04],
            [0.00, 0.01, 0.02, 0.02, 0.03, 0.03, 0.03, 0.03, 0.03, 0.03],
            [0.05, 0.04, 0.04, 0.04, 0.05, 0.05, 0.05, 0.05, 0.05, 0.05]),
    "blk": ([0.18, 0.19, 0.19, 0.20, 0.19, 0.18, 0.17, 0.16, 0.14, 0.13],
            [0.10, 0.16, 0.17, 0.18, 0.17, 0.16, 0.15, 0.14, 0.12, 0.11],
            [0.28, 0.22, 0.21, 0.22, 0.21, 0.20, 0.19, 0.18, 0.16, 0.15]),
    "hisp": ([0.36, 0.26, 0.22, 0.21, 0.20, 0.18, 0.16, 0.15, 0.13, 0.12],
             [0.20, 0.22, 0.20, 0.19, 0.18, 0.16, 0.14, 0.13, 0.11, 0.10],
             [0.50, 0.30, 0.25, 0.23, 0.22, 0.20, 0.18, 0.17, 0.15, 0.14]),
    "mult": ([0.02, 0.02, 0.02, 0.02, 0.02, 0.02, 0.02, 0.02, 0.02, 0.02],
             [0.01, 0.01, 0.01, 0.01, 0.01, 0.01, 0.01, 0.01, 0.01, 0.01],
             [0.04, 0.03, 0.03, 0.03, 0.03, 0.03, 0.03, 0.03, 0.03, 0.03]),
    "wht": ([0.42, 0.49, 0.51, 0.52, 0.50, 0.57, 0.62, 0.66, 0.70, 0.72],
            [0.28, 0.44, 0.48, 0.49, 0.47, 0.55, 0.60, 0.64, 0.68, 0.69],
            [0.57, 0.54, 0.54, 0.55, 0.53, 0.59, 0.64, 0.68, 0.72, 0.75]),
}
PTS_PH_F = {
    "aian": [[N, N, N, 0.24, N, N, N, 0.00, 0.00, 0.00, 0.00, 0.00, 0.00, 0.00, 0.00, 0.00, 0.00, 0.00]],
    "api": [[N, N, N, N, N, N, 0.02, 0.08, 0.02, 0.05, 0.05, 0.05, 0.05, 0.05, 0.05, 0.05, 0.05, 0.05]],
    "blk": [[1.00, 0.36, N, 0.10, 0.50, 0.19, 0.56, 0.52, 0.33, 0.14, 0.22, 0.14, 0.21, 0.18, 0.10, 0.15, 0.09, 0.12],
            [N, N, N, N, 0.24, N, N, 0.43, 0.26, N, N, N, N, N, N, N, N, N]],
    "hisp": [[N, 1.00, 0.18, 0.68, 0.79, 0.38, 0.18, N, 0.18, 0.24, 0.14, 0.21, 0.11, 0.08, 0.16, 0.12, 0.14, 0.12],
             [N, 0.17, 0.05, N, 0.73, N, N, N, N, N, N, N, N, N, N, N, N, N]],
    "mult": [[N, N, 0.00, N, N, 0.00, 0.01, 0.05, 0.06, 0.04, 0.03, 0.01, 0.01, 0.01, 0.01, 0.01, 0.01, 0.01]],
    "wht": [[0.00, 0.47, 1.00, 0.86, 0.73, 0.78, 0.70, 0.32, 0.51, 0.62, 0.66, 0.63, 0.68, 0.75, 0.67, 0.72, 0.82, 0.78],
            [N, 0.00, 0.80, 0.75, 0.17, 0.74, 0.62, 0.23, 0.40, 0.58, 0.64, 0.60, 0.62, 0.64, 0.64, 0.62, 0.68, 0.74],
            [N, N, 0.47, 0.00, N, 0.64, N, N, N, 0.54, 0.57, 0.54, 0.57, N, N, N, N, 0.72]],
}
BAR_PH_F = {
    "blk": ([N, 0.10, N, 0.00, 0.10, 0.05, 0.35, 0.30, 0.15, 0.05, 0.12, 0.05, 0.12, 0.10, 0.04, 0.05, 0.02, 0.04],
            [N, 0.60, N, 0.30, 0.70, 0.35, 0.65, 0.60, 0.45, 0.25, 0.30, 0.25, 0.28, 0.27, 0.20, 0.25, 0.20, 0.20]),
    "hisp": ([N, 0.00, 0.00, 0.00, 0.00, 0.05, 0.05, N, 0.05, 0.10, 0.05, 0.08, 0.04, 0.04, 0.05, 0.05, 0.05, 0.04],
             [N, 1.00, 0.40, 1.00, 1.00, 0.60, 0.40, N, 0.35, 0.35, 0.28, 0.30, 0.25, 0.22, 0.30, 0.25, 0.28, 0.25]),
    "wht": ([N, 0.00, 0.00, 0.00, 0.00, 0.00, 0.04, 0.00, 0.02, 0.35, 0.45, 0.40, 0.46, 0.51, 0.48, 0.48, 0.45, 0.57],
            [N, 1.00, 1.00, 0.95, 0.90, 0.97, 0.88, 0.78, 0.66, 0.77, 0.75, 0.73, 0.76, 0.82, 0.82, 0.80, 0.90, 0.88]),
}

RIB_PH_M = {
    "aian": ([0.01, 0.01, 0.01, 0.01, 0.01, 0.01, 0.01, 0.01, 0.01, 0.01], Z10,
             [0.03, 0.02, 0.02, 0.02, 0.02, 0.02, 0.02, 0.02, 0.02, 0.02]),
    "api": ([0.02, 0.02, 0.03, 0.06, 0.06, 0.06, 0.05, 0.05, 0.05, 0.05],
            [0.00, 0.01, 0.02, 0.05, 0.05, 0.05, 0.04, 0.04, 0.04, 0.04],
            [0.05, 0.04, 0.05, 0.07, 0.07, 0.07, 0.06, 0.06, 0.06, 0.06]),
    "blk": ([0.16, 0.16, 0.17, 0.16, 0.12, 0.09, 0.08, 0.07, 0.07, 0.07],
            [0.08, 0.13, 0.15, 0.14, 0.10, 0.07, 0.06, 0.05, 0.05, 0.05],
            [0.25, 0.20, 0.19, 0.18, 0.14, 0.11, 0.10, 0.09, 0.09, 0.09]),
    "hisp": ([0.33, 0.29, 0.28, 0.25, 0.23, 0.18, 0.15, 0.13, 0.12, 0.12],
             [0.22, 0.26, 0.25, 0.23, 0.21, 0.16, 0.13, 0.11, 0.10, 0.10],
             [0.45, 0.33, 0.31, 0.27, 0.25, 0.20, 0.17, 0.15, 0.14, 0.14]),
    "mult": ([0.15, 0.10, 0.05, 0.02, 0.02, 0.02, 0.02, 0.02, 0.02, 0.01],
             [0.02, 0.02, 0.01, 0.01, 0.01, 0.01, 0.01, 0.01, 0.01, 0.00],
             [0.23, 0.20, 0.12, 0.04, 0.03, 0.03, 0.03, 0.03, 0.03, 0.02]),
    "wht": ([0.45, 0.43, 0.43, 0.49, 0.53, 0.61, 0.67, 0.72, 0.76, 0.78],
            [0.30, 0.39, 0.40, 0.46, 0.51, 0.59, 0.65, 0.70, 0.74, 0.76],
            [0.66, 0.48, 0.46, 0.52, 0.56, 0.63, 0.69, 0.74, 0.78, 0.80]),
}
PTS_PH_M = {
    "aian": [[N, N, N, N, N, N, N, 0.00, 0.00, 0.00, 0.00, 0.00, 0.00, 0.00, 0.00, 0.00, 0.00, 0.00]],
    "api": [[N, N, N, N, N, N, 0.10, 0.08, 0.07, 0.07, 0.07, 0.06, 0.06, 0.06, 0.06, 0.06, 0.06, 0.08]],
    "blk": [[N, N, 0.15, 0.55, 0.62, 0.52, N, 0.26, 0.28, 0.22, 0.14, N, N, N, N, 0.13, N, N],
            [N, N, N, N, N, 0.24, N, 0.00, N, N, N, N, N, N, N, N, N, N]],
    "hisp": [[N, N, 0.05, 0.20, 0.10, 0.30, 0.22, N, 0.25, 0.17, 0.17, 0.15, 0.15, 0.11, 0.13, N, 0.17, 0.25],
             [N, N, N, N, N, N, N, N, N, N, N, N, N, N, N, N, 0.11, 0.16]],
    "mult": [[N, N, 0.60, 0.00, 0.00, 0.00, 0.00, 0.14, 0.01, 0.01, 0.01, 0.01, 0.01, 0.01, 0.01, 0.01, 0.01, 0.01],
             [N, N, 0.48, N, N, N, N, N, N, N, N, N, N, N, N, N, N, N],
             [N, N, 0.30, N, N, N, N, N, N, N, N, N, N, N, N, N, N, N],
             [N, N, 0.00, N, N, N, N, N, N, N, N, N, N, N, N, N, N, N]],
    "wht": [[N, 1.00, N, 1.00, 0.83, 0.70, 0.72, 0.60, 0.57, 0.65, 0.62, 0.70, 0.67, 0.73, 0.77, 0.77, 0.78, 0.82],
            [N, 0.84, N, 0.97, 0.80, 0.65, 0.66, 0.45, 0.53, 0.55, 0.58, 0.65, 0.58, 0.69, 0.71, 0.70, 0.72, 0.74],
            [N, 0.00, N, 0.80, 0.61, 0.24, 0.50, 0.34, N, N, N, N, N, N, N, N, N, N]],
}
BAR_PH_M = {
    "blk": ([N, N, 0.05, 0.40, 0.45, 0.40, N, 0.10, 0.15, 0.10, 0.05, N, N, N, N, N, N, N],
            [N, N, 0.30, 0.70, 0.75, 0.65, N, 0.40, 0.40, 0.35, 0.25, N, N, N, N, N, N, N]),
    "hisp": ([N, N, N, N, N, 0.00, 0.05, N, 0.10, 0.05, 0.05, 0.05, 0.05, 0.04, 0.04, N, 0.04, 0.05],
             [N, N, N, N, N, 1.00, 0.40, N, 0.40, 0.30, 0.28, 0.25, 0.28, 0.20, 0.25, N, 0.30, 0.40]),
    "mult": ([N, N, 0.00, N, N, N, N, N, N, N, N, N, N, N, N, N, N, N],
             [N, N, 0.99, N, N, N, N, N, N, N, N, N, N, N, N, N, N, N]),
    "wht": ([N, 0.00, N, 0.00, 0.00, 0.00, 0.00, 0.00, 0.14, 0.30, 0.45, 0.53, 0.43, 0.58, 0.60, 0.61, 0.55, 0.00],
            [N, 1.00, N, 1.00, 0.97, 0.90, 0.92, 0.91, 0.75, 0.78, 0.70, 0.78, 0.80, 0.82, 0.84, 0.81, 0.86, 0.96]),
}

ROWS = [
    ("Ambulatory Care", "(2016 predictions, 2013\u22122016 data)",
     (RIB_AMB_F, PTS_AMB_F, BAR_AMB_F), (RIB_AMB_M, PTS_AMB_M, BAR_AMB_M)),
    ("Emergency Department Care", "(2016 predictions, 2013\u22122016 data)",
     (RIB_ED_F, PTS_ED_F, BAR_ED_F), (RIB_ED_M, PTS_ED_M, BAR_ED_M)),
    ("Inpatient Care", "(2016 predictions, 2013\u22122016 data)",
     (RIB_INP_F, PTS_INP_F, BAR_INP_F), (RIB_INP_M, PTS_INP_M, BAR_INP_M)),
    ("Nursing Facility Care", "(2012 predictions, 2009\u22122012 data)",
     (RIB_NUR_F, PTS_NUR_F, BAR_NUR_F), (RIB_NUR_M, PTS_NUR_M, BAR_NUR_M)),
    ("Prescribed Pharmaceuticals", "(2016 predictions, 2013\u22122016 data)",
     (RIB_PH_F, PTS_PH_F, BAR_PH_F), (RIB_PH_M, PTS_PH_M, BAR_PH_M)),
]
SEXES = ["Female", "Male"]

# ---------------- layout (pixels) ----------------
W, H = 1001, 1556
COLS = [(87, 468), (481, 862)]
ROW_Y = [(42, 150, 303), (316, 424, 577), (590, 697, 850), (864, 971, 1124), (1137, 1245, 1398)]

sns.set_style("white")
plt.rcParams["font.family"] = ["Liberation Sans", "DejaVu Sans"]
TXT = "#1A1A1A"
EDGE = "#333333"


def box(x0, y0, x1, y1):
    return [x0 / W, 1 - y1 / H, (x1 - x0) / W, (y1 - y0) / H]


def strip(fig, x0, y0, x1, y1, text):
    s = fig.add_axes(box(x0, y0, x1, y1))
    s.set_facecolor("#D9D9D9")
    s.set_xticks([])
    s.set_yticks([])
    for sp in s.spines.values():
        sp.set_color(EDGE)
        sp.set_linewidth(1.0)
    s.text(0.5, 0.5, text, ha="center", va="center", fontsize=13.2,
           color=TXT, linespacing=1.2, transform=s.transAxes)


def draw_panel(ax, rib, pts, bars):
    for r in RACES:
        mid, lo, hi = rib[r]
        ax.fill_between(R_AGES, lo, hi, color=PAL[r], alpha=0.4, linewidth=0, zorder=1)
    lines = pd.DataFrame([(r, a, v) for r in RACES for a, v in zip(R_AGES, rib[r][0])],
                         columns=["race", "age", "val"])
    sns.lineplot(data=lines, x="age", y="val", hue="race", hue_order=RACES, palette=PAL,
                 linewidth=1.2, errorbar=None, legend=False, ax=ax, zorder=2)
    for r in RACES:
        if r not in bars:
            continue
        lo, hi = bars[r]
        seg = [(a, l, h) for a, l, h in zip(P_AGES, lo, hi) if l is not None]
        if seg:
            ax.vlines([s[0] for s in seg], [s[1] for s in seg], [s[2] for s in seg],
                      colors=PAL[r], linewidth=2.2, zorder=3)
    rows = []
    for r in RACES:
        for lst in pts.get(r, []):
            for a, v in zip(P_AGES, lst):
                if v is not None:
                    rows.append((r, a, v))
    pdf = pd.DataFrame(rows, columns=["race", "age", "val"])
    sns.scatterplot(data=pdf, x="age", y="val", hue="race", hue_order=RACES, palette=PAL,
                    s=58, linewidth=0, legend=False, ax=ax, zorder=4)
    ax.set_xlabel("")
    ax.set_ylabel("")


fig = plt.figure(figsize=(W / 100, H / 100), dpi=100)

for i, (name, sub, fem, mal) in enumerate(ROWS):
    top, ptop, pbot = ROW_Y[i]
    for j, data in enumerate([fem, mal]):
        x0, x1 = COLS[j]
        strip(fig, x0, top, x1, top + 54, name + "\n" + sub)
        strip(fig, x0, top + 54, x1, ptop, SEXES[j])
        ax = fig.add_axes(box(x0, ptop, x1, pbot))
        ax.set_facecolor("white")
        draw_panel(ax, *data)
        ax.set_xlim(-4.25, 89.25)
        ax.set_ylim(-0.05, 1.05)
        ax.set_xticks([0, 20, 40, 60, 80])
        ax.set_xticks([10, 30, 50, 70], minor=True)
        ax.set_yticks([0, 0.25, 0.5, 0.75, 1.0])
        ax.set_yticks([0.125, 0.375, 0.625, 0.875], minor=True)
        ax.set_yticklabels(["0.00", "0.25", "0.50", "0.75", "1.00"])
        ax.grid(True, which="major", color="#EBEBEB", linewidth=1.0)
        ax.grid(True, which="minor", color="#F3F3F3", linewidth=0.6)
        ax.set_axisbelow(True)
        for sp in ax.spines.values():
            sp.set_color(EDGE)
            sp.set_linewidth(1.0)
            sp.set_zorder(6)
        ax.tick_params(which="minor", length=0)
        ax.tick_params(axis="y", which="major", left=(j == 0), labelleft=(j == 0),
                       length=3.5, width=0.8, color=EDGE, labelcolor="#4D4D4D",
                       labelsize=12.5, pad=2)
        last = i == len(ROWS) - 1
        ax.tick_params(axis="x", which="major", bottom=last, labelbottom=last,
                       length=3.5, width=0.8, color=EDGE, labelcolor="#4D4D4D",
                       labelsize=12.5, pad=2)

fig.text(87 / W, 1 - 18 / H, "Diabetes mellitus", ha="left", va="center",
         fontsize=15.5, color=TXT)
fig.text(22 / W, 1 - 772 / H, "Modeled proportion of spending", rotation=90,
         ha="center", va="center", fontsize=16, color=TXT)
fig.text(475 / W, 1 - 1440 / H, "Age", ha="center", va="center", fontsize=16, color=TXT)

# legend drawn in pixel space
lg = fig.add_axes([0, 0, 1, 1])
lg.set_xlim(0, W)
lg.set_ylim(H, 0)
lg.axis("off")
KEY_X = [-16, 496, 723]
TEXT_X = [14, 521, 752]
KEY_Y = [1505, 1540]
for k, r in enumerate(RACES):
    c, rr = divmod(k, 2)
    kx, ky = KEY_X[c], KEY_Y[rr]
    lg.add_patch(Rectangle((kx - 17.5, ky - 17.5), 35, 35, facecolor=PAL[r],
                           alpha=0.4, edgecolor="none"))
    lg.plot([kx, kx], [ky - 17.5, ky + 17.5], color=PAL[r], lw=1.0)
    lg.plot([kx - 17.5, kx + 17.5], [ky, ky], color=PAL[r], lw=1.0)
    lg.plot([kx], [ky], "o", color=PAL[r], ms=4)
    lg.text(TEXT_X[c], ky, LABELS[r], ha="left", va="center", fontsize=13.2, color=TXT)

fig.savefig("out.png", dpi=100)
